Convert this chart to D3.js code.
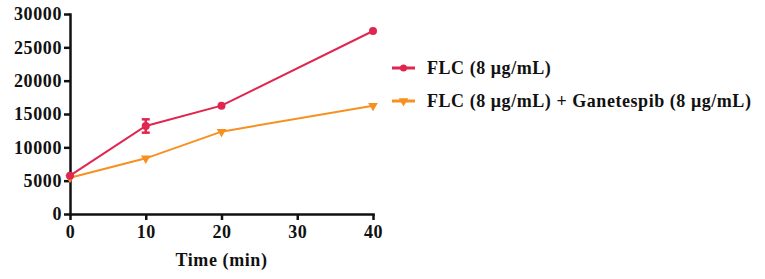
<!DOCTYPE html>
<html>
<head>
<meta charset="utf-8">
<script src="https://cdn.jsdelivr.net/npm/d3@7"></script>
<style>
    body { margin: 0; background: #fff; }
    svg text {
        font-family: "Liberation Serif", "Times New Roman", serif;
        font-weight: bold;
        fill: #111;
    }
    .axis path, .axis line { stroke: #111; stroke-width: 2.5; }
    .axis text { font-size: 18px; letter-spacing: 0.6px; }
</style>
</head>
<body>
<svg id="svg"></svg>
<script>
const times = [0, 10, 20, 40];
const flc = [5750, 13200, 16250, 27450];
const flcErr = [0, 1000, 0, 0];
const flcGan = [5450, 8350, 12350, 16250];
const seriesNames = ['FLC (8 μg/mL)', 'FLC (8 μg/mL) + Ganetespib (8 μg/mL)'];
const seriesColors = ['#e0264f', '#f7901e'];
const xTicks = [0, 10, 20, 30, 40];
const yTicks = [0, 5000, 10000, 15000, 20000, 25000, 30000];

const width = 765, height = 279;
const margin = {top: 14, left: 70, right: 392, bottom: 65};

const svg = d3.select('#svg')
    .attr('width', width)
    .attr('height', height);

const x = d3.scaleLinear().domain([0, 40]).range([margin.left, width - margin.right]);
const y = d3.scaleLinear().domain([0, 30000]).range([height - margin.bottom, margin.top]);

svg.append('g')
    .attr('class', 'axis')
    .attr('transform', 'translate(0,' + (height - margin.bottom) + ')')
    .call(d3.axisBottom(x).tickValues(xTicks).tickSize(6).tickSizeOuter(0).tickPadding(5));

svg.append('g')
    .attr('class', 'axis')
    .attr('transform', 'translate(' + margin.left + ',0)')
    .call(d3.axisLeft(y).tickValues(yTicks).tickFormat(d3.format('d'))
        .tickSize(6).tickSizeOuter(0).tickPadding(2));

svg.selectAll('.axis .domain').attr('stroke-linecap', 'square');

svg.append('text')
    .attr('x', x(20))
    .attr('y', 266)
    .attr('text-anchor', 'middle')
    .style('font-size', '18px')
    .style('letter-spacing', '0.6px')
    .text('Time (min)');

const line = d3.line().x(d => x(d[0])).y(d => y(d[1]));

// red series with error bars
const redPts = times.map((t, i) => [t, flc[i], flcErr[i]]);
svg.append('path')
    .attr('d', line(redPts))
    .attr('fill', 'none')
    .attr('stroke', seriesColors[0])
    .attr('stroke-width', 2);

const err = svg.append('g').attr('stroke', seriesColors[0]).attr('stroke-width', 2.5);
redPts.filter(d => d[2] > 0).forEach(d => {
    err.append('line')
        .attr('x1', x(d[0])).attr('x2', x(d[0]))
        .attr('y1', y(d[1] - d[2])).attr('y2', y(d[1] + d[2]));
    [d[1] - d[2], d[1] + d[2]].forEach(v => {
        err.append('line')
            .attr('x1', x(d[0]) - 4).attr('x2', x(d[0]) + 4)
            .attr('y1', y(v)).attr('y2', y(v));
    });
});

// orange series
const orPts = times.map((t, i) => [t, flcGan[i]]);
svg.append('path')
    .attr('d', line(orPts))
    .attr('fill', 'none')
    .attr('stroke', seriesColors[1])
    .attr('stroke-width', 2);

const tri = d3.symbol().type(d3.symbolTriangle).size(40);

svg.selectAll('.tri')
    .data(orPts)
    .enter().append('path')
    .attr('class', 'tri')
    .attr('d', tri)
    .attr('transform', d => 'translate(' + x(d[0]) + ',' + y(d[1]) + ') rotate(180)')
    .attr('fill', seriesColors[1]);

svg.selectAll('.dot')
    .data(redPts)
    .enter().append('circle')
    .attr('class', 'dot')
    .attr('cx', d => x(d[0]))
    .attr('cy', d => y(d[1]))
    .attr('r', 4)
    .attr('fill', seriesColors[0]);

// legend
const legend = svg.append('g').attr('transform', 'translate(392,68)');
seriesNames.forEach((name, i) => {
    const g = legend.append('g').attr('transform', 'translate(0,' + (i * 33) + ')');
    g.append('line')
        .attr('x1', 0).attr('x2', 23)
        .attr('stroke', seriesColors[i])
        .attr('stroke-width', 3);
    if (i === 0) {
        g.append('circle').attr('cx', 11.5).attr('r', 3.5).attr('fill', seriesColors[i]);
    } else {
        g.append('path').attr('d', tri).attr('transform', 'translate(11.5,0) rotate(180)')
            .attr('fill', seriesColors[i]);
    }
    g.append('text')
        .attr('x', 35)
        .attr('y', 6)
        .style('font-size', '18px')
        .style('letter-spacing', '0.55px')
        .text(name);
});
</script>
</body>
</html>
